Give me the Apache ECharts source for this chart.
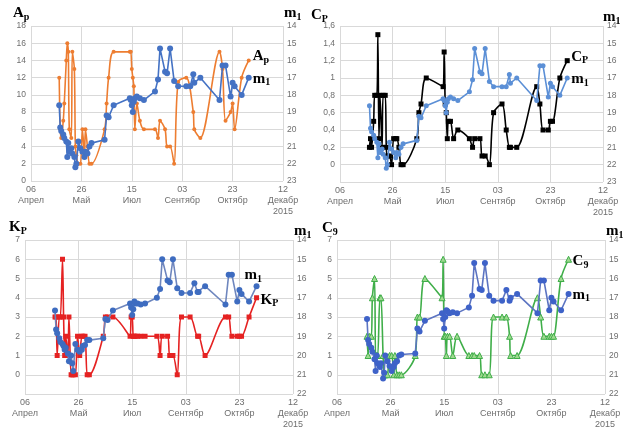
<!DOCTYPE html>
<html>
<head>
<meta charset="utf-8">
<script src="https://cdn.jsdelivr.net/npm/echarts@6/dist/echarts.min.js"></script>
<style>html,body{margin:0;padding:0;background:#fff}#c{width:627px;height:430px}</style>
</head>
<body>
<div id="c"></div>
<script>
// days since 06 April 2015
const dayOffsets = [28,29,30,32,33,35,36,37,38,40,41,43,44,45,47,49,51,53,54,56,58,60,
  73,75,77,82,
  98,99,100,101,102,103,105,108,112,
  123,126,128,133,135,138,142,146,154,158,161,162,168,
  187,190,193,198,200,202,209,216];

const tickLabels = ['06\nАпрел','26\nМай','15\nИюл','03\nСентябр','23\nОктябр','12\nДекабр\n2015'];

const apValues = [12,6,5,7,9,14,16,15,6,5,15,13,4,3,2,2,6,3,6,4,2,2,
  6,9,12,15,
  15,15,13,12,11,6,9,7,6,
  6,5,7,6,4,4,2,11.5,12,null,8,6,5,
  15,13,7,8,9,6,12,14];

const cpValues = [0.2,0.3,0.2,0.5,0.8,0.8,1.5,0.3,0.8,0.2,0.8,0.8,0.2,0.1,0.1,0,0.3,0.3,0.3,0.2,0,0,
  0.3,0.6,0.7,1.0,
  0.9,1.3,0.7,0.6,0.3,0.5,0.5,0.3,0.4,
  0.3,0.2,0.3,0.3,0.1,0.1,0,0.6,0.7,0.4,0.2,0.2,0.2,
  0.9,0.7,0.4,0.4,0.5,0.5,1.0,1.2];

const kpValues = [3,3,1,3,3,6,3,1,2,1,3,0,0,0,0,2,1,2,2,2,0,0,
  2,3,3,3,
  2,3,3,2,2,2,2,2,2,
  2,1,2,2,1,1,0,3,3,null,2,2,1,
  3,3,2,2,2,2,3,4];

const c9Values = [2,1,2,2,4,5,1,1,1,4,4,1,0,0,0,1,1,0,1,0,0,0,
  1,3,3,5,
  4,6,2,2,1,2,2,1,2,
  1,1,1,1,0,0,0,3,3,3,2,1,1,
  4,3,2,2,2,2,5,6];

// m1 as read in the Ap and Cp panels
const m1Top = [18.6,19.9,20.1,20.3,20.5,20.7,21.6,20.8,21.3,21.1,21.4,21.6,22.2,22.0,20.7,21.1,21.3,21.6,21.3,21.4,21.0,20.8,
  20.6,19.2,19.3,18.6,
  18.2,18.3,18.6,19.0,18.4,18.2,18.1,18.2,18.3,
  17.8,17.1,15.3,16.65,16.75,15.3,17.2,17.5,17.5,17.5,16.8,17.3,17.0,
  18.3,16.3,16.3,18.1,17.3,17.5,18.0,17.0];

// m1 as read in the Kp panel
const m1Kp = [17.66,18.65,18.85,19.1,19.3,19.4,19.5,19.7,19.6,19.9,20.3,20.0,20.4,20.8,19.4,19.7,19.8,19.7,19.5,19.45,19.2,19.2,
  19.1,18.1,18.15,17.66,
  17.3,17.5,17.9,17.6,17.2,17.3,17.3,17.35,17.3,
  17.0,16.55,15.0,16.1,16.2,15.0,16.5,16.75,16.75,16.25,16.7,16.7,16.4,
  17.35,15.8,15.8,17.2,16.6,16.8,17.2,16.4];

// m1 as read in the C9 panel
const m1C9 = [18.1,19.2,19.4,19.6,19.8,20.2,20.8,20.0,20.4,20.6,20.4,21.2,20.9,20.0,20.3,20.55,20.8,20.6,20.4,20.3,20.0,19.95,
  19.9,18.6,18.75,18.2,
  17.8,18.1,18.6,18.0,17.65,17.7,17.8,17.75,17.8,
  17.5,16.9,15.2,16.55,16.6,15.2,16.9,17.15,17.15,16.6,17.15,17.0,16.8,
  17.8,16.1,16.1,17.65,17.0,17.2,17.65,16.8];

const pair = vals => dayOffsets.map((d, i) => [d, vals[i]]);

const SERIF = 'Liberation Serif';
const rich = {
  b: {fontFamily: SERIF, fontWeight: 'bold', fontSize: 15, color: '#000', lineHeight: 18},
  s: {fontFamily: SERIF, fontWeight: 'bold', fontSize: 10, color: '#000', verticalAlign: 'bottom', lineHeight: 14}
};
const lbl = (a, b) => '{b|' + a + '}{s|' + b + '}';

const grids = [
  {left: 31, right: 344, top: 26, bottom: 249},
  {left: 340, right: 24, top: 26, bottom: 248},
  {left: 25, right: 334, top: 240, bottom: 33},
  {left: 337, right: 22, top: 240, bottom: 33}
];

const gridColor = '#d9d9d9';
const labelColor = '#6e6e6e';

const xAxes = grids.map((g, i) => ({
  type: 'value', gridIndex: i, min: 0, max: 250, interval: 50,
  axisLine: {show: false}, axisTick: {show: false},
  splitLine: {show: true, lineStyle: {color: gridColor, width: 1}},
  axisLabel: {
    color: labelColor, fontSize: 9, fontFamily: 'Liberation Sans', lineHeight: 11, margin: 3,
    formatter: v => tickLabels[Math.round(v / 50)]
  }
}));

const leftDefs = [
  {min: 0, max: 18, interval: 2, fmt: v => String(v)},
  {min: -0.2, max: 1.6, interval: 0.2, fmt: v => v < -0.01 ? '' : String(+v.toFixed(1)).replace('.', ',')},
  {min: -1, max: 7, interval: 1, fmt: v => v < 0 ? '' : String(v)},
  {min: -1, max: 7, interval: 1, fmt: v => v < 0 ? '' : String(v)}
];
const rightDefs = [
  {min: 14, max: 23}, {min: 14, max: 23}, {min: 14, max: 22}, {min: 14, max: 22}
];

const yAxes = [];
grids.forEach((g, i) => {
  const L = leftDefs[i];
  yAxes.push({
    type: 'value', gridIndex: i, position: 'left', min: L.min, max: L.max, interval: L.interval,
    axisLine: {show: false}, axisTick: {show: false},
    splitLine: {show: true, lineStyle: {color: gridColor, width: 1}},
    axisLabel: {color: labelColor, fontSize: 8.5, fontFamily: 'Liberation Sans', margin: 5, formatter: L.fmt}
  });
  const R = rightDefs[i];
  yAxes.push({
    type: 'value', gridIndex: i, position: 'right', inverse: true, min: R.min, max: R.max, interval: 1,
    axisLine: {show: false}, axisTick: {show: false}, splitLine: {show: false},
    axisLabel: {color: labelColor, fontSize: 8.5, fontFamily: 'Liberation Sans', margin: 4}
  });
});

function mkSeries(vals, gi, right, color, symbol, size, endText, endOffset, opts) {
  opts = opts || {};
  return {
    type: 'line', xAxisIndex: gi, yAxisIndex: gi * 2 + (right ? 1 : 0),
    data: pair(vals), connectNulls: true, smooth: opts.smooth || false,
    symbol: symbol, symbolSize: size, showSymbol: true,
    lineStyle: {color: opts.lineColor || color, width: 1.6},
    itemStyle: {color: opts.fill || color, borderColor: color, borderWidth: opts.border || 0},
    z: opts.z || 2,
    endLabel: {show: true, formatter: () => endText, rich: rich, distance: 4, offset: endOffset},
    emphasis: {disabled: true}
  };
}

const series = [
  mkSeries(apValues, 0, false, '#ED7D31', 'circle', 4, lbl('A', 'p'), [0, -4], {smooth: 0.3}),
  mkSeries(m1Top, 0, true, '#4472C4', 'circle', 6, lbl('m', '1'), [0, 1], {z: 3}),
  mkSeries(cpValues, 1, false, '#000000', 'rect', 5, lbl('C', 'P'), [0, -4], {smooth: 0.3}),
  mkSeries(m1Top, 1, true, '#5B8FD6', 'circle', 5, lbl('m', '1'), [0, 1], {z: 3}),
  mkSeries(kpValues, 2, false, '#E52222', 'rect', 5, lbl('K', 'P'), [0, 2], {smooth: 0.3}),
  mkSeries(m1Kp, 2, true, '#3E6CC0', 'circle', 6, lbl('m', '1'), [-16, -11], {z: 3, lineColor: '#6E86BE'}),
  mkSeries(c9Values, 3, false, '#3FAE49', 'triangle', 6, lbl('C', '9'), [0, 2], {smooth: 0.3, fill: '#9ED98F', border: 1}),
  mkSeries(m1C9, 3, true, '#3E62C8', 'circle', 6, lbl('m', '1'), [0, 1], {z: 3, lineColor: '#5C74C2'})
];

const titles = [
  {text: lbl('A', 'p'), left: 13, top: 4},
  {text: lbl('m', '1'), left: 284, top: 4},
  {text: lbl('C', 'P'), left: 311, top: 6},
  {text: lbl('m', '1'), left: 603, top: 8},
  {text: lbl('K', 'P'), left: 9, top: 218},
  {text: lbl('m', '1'), left: 294, top: 222},
  {text: lbl('C', '9'), left: 322, top: 219},
  {text: lbl('m', '1'), left: 606, top: 222}
].map(t => Object.assign(t, {padding: 0, textStyle: {rich: rich}}));

const chart = echarts.init(document.getElementById('c'), null, {renderer: 'canvas'});
chart.setOption({
  animation: false,
  backgroundColor: '#fff',
  title: titles,
  grid: grids,
  xAxis: xAxes,
  yAxis: yAxes,
  series: series
});
</script>
</body>
</html>
